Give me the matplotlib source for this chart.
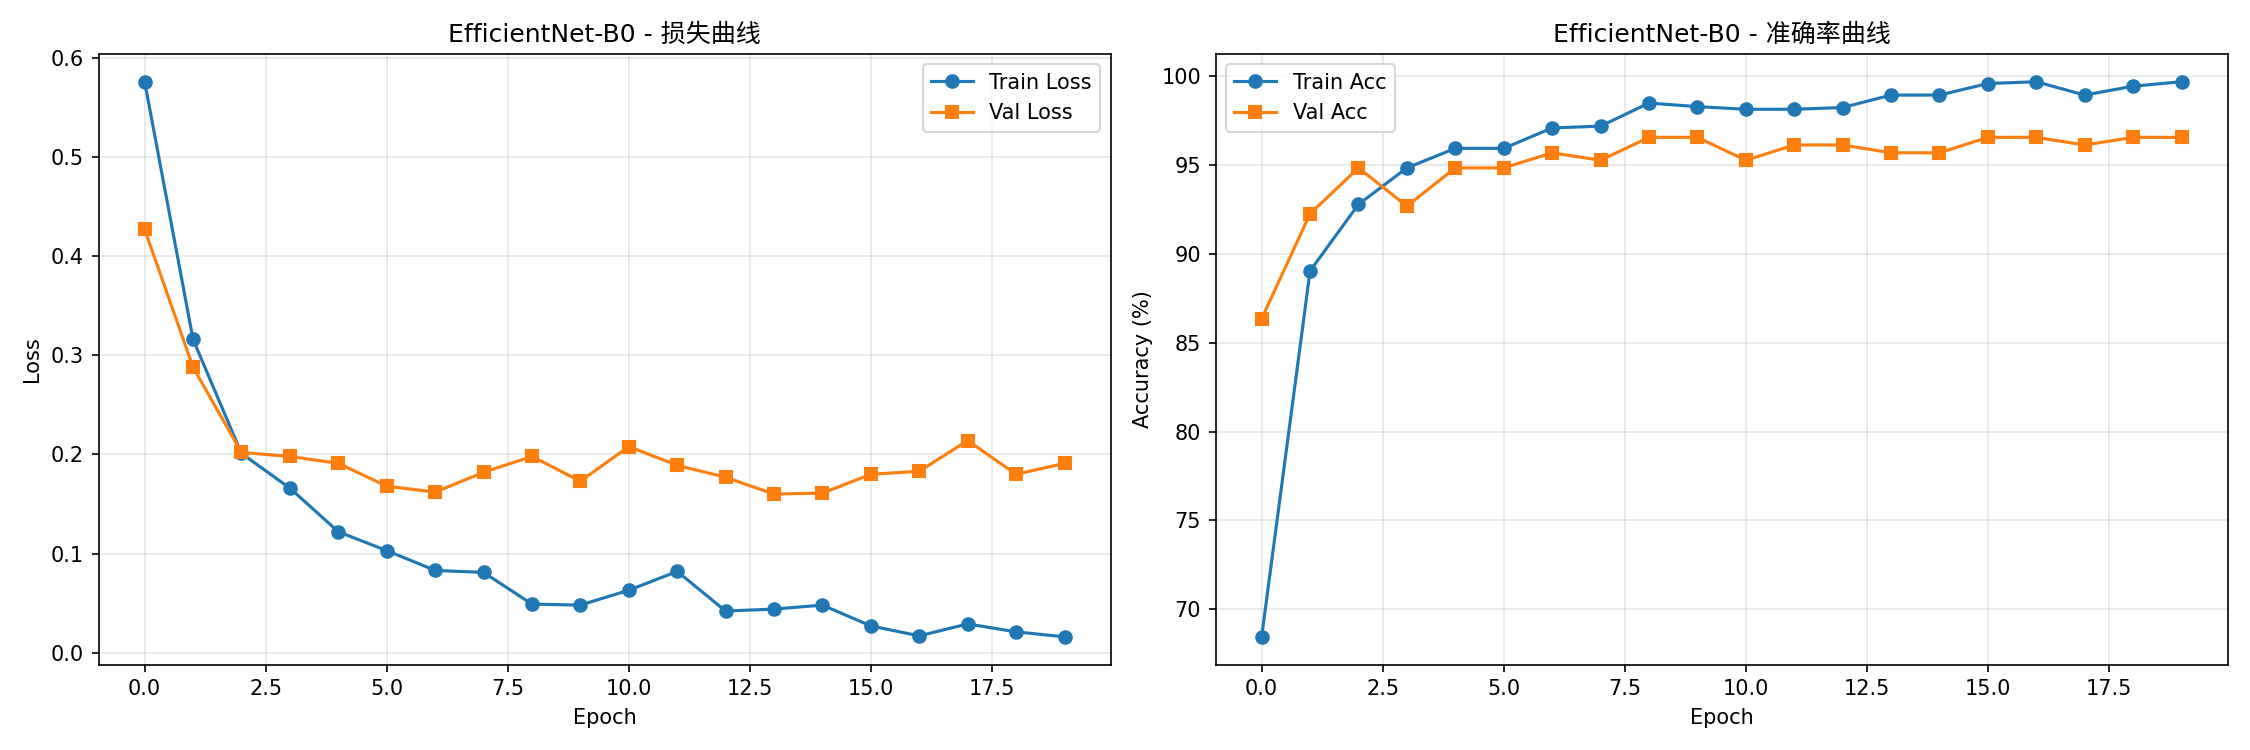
import matplotlib
matplotlib.use("Agg")
import matplotlib.pyplot as plt

plt.rcParams['font.family'] = ['DejaVu Sans', 'Noto Sans CJK SC']

epochs = list(range(20))
train_loss = [0.576, 0.316, 0.201, 0.166, 0.122, 0.103, 0.083, 0.081, 0.049, 0.048,
              0.063, 0.082, 0.042, 0.044, 0.048, 0.027, 0.017, 0.029, 0.021, 0.016]
val_loss = [0.427, 0.288, 0.202, 0.198, 0.191, 0.168, 0.162, 0.182, 0.198, 0.173,
            0.208, 0.189, 0.177, 0.160, 0.161, 0.180, 0.183, 0.214, 0.180, 0.191]
train_acc = [68.45, 89.05, 92.8, 94.85, 95.95, 95.95, 97.1, 97.2, 98.5, 98.3,
             98.15, 98.15, 98.25, 98.95, 98.95, 99.6, 99.7, 98.95, 99.45, 99.7]
val_acc = [86.36, 92.27, 94.85, 92.7, 94.85, 94.85, 95.7, 95.28, 96.57, 96.57,
           95.28, 96.14, 96.14, 95.7, 95.7, 96.57, 96.57, 96.14, 96.57, 96.57]

title_loss = "EfficientNet-B0 - 损失曲线"
title_acc = "EfficientNet-B0 - 准确率曲线"

fig, (ax1, ax2) = plt.subplots(1, 2, figsize=(15, 5), dpi=150)

ax1.plot(epochs, train_loss, marker='o', label='Train Loss')
ax1.plot(epochs, val_loss, marker='s', label='Val Loss')
ax1.set_title(title_loss)
ax1.set_xlabel('Epoch')
ax1.set_ylabel('Loss')
ax1.legend()
ax1.grid(True, alpha=0.3)

ax2.plot(epochs, train_acc, marker='o', label='Train Acc')
ax2.plot(epochs, val_acc, marker='s', label='Val Acc')
ax2.set_title(title_acc)
ax2.set_xlabel('Epoch')
ax2.set_ylabel('Accuracy (%)')
ax2.legend()
ax2.grid(True, alpha=0.3)

plt.tight_layout()
plt.savefig('out.png', dpi=150)
